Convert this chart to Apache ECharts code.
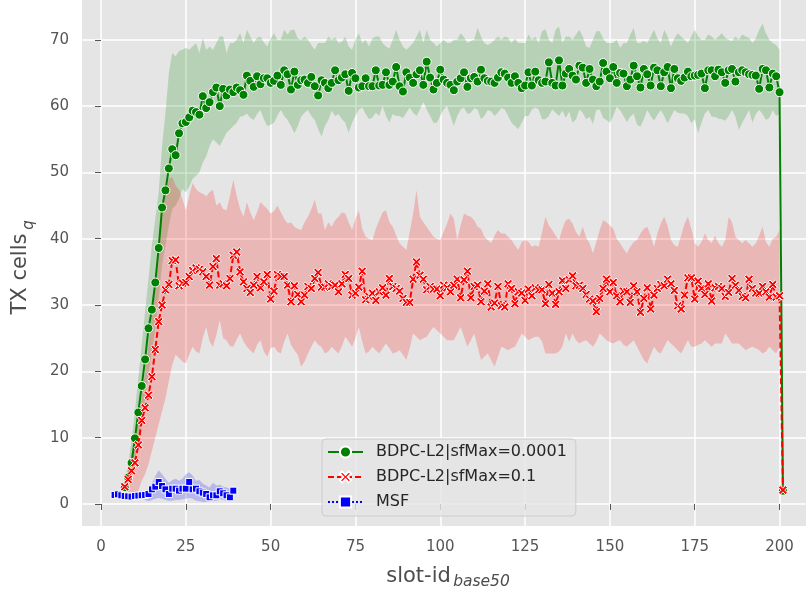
<!DOCTYPE html>
<html>
<head>
<meta charset="utf-8">
<script src="https://cdn.jsdelivr.net/npm/echarts@6/dist/echarts.min.js"></script>
<style>html,body{margin:0;padding:0;background:#fff;}#c{width:806px;height:594px;}</style>
</head>
<body>
<div id="c"></div>
<script>
// ---------------- DATA ----------------
const seriesNames = ['BDPC-L2|sfMax=0.0001', 'BDPC-L2|sfMax=0.1', 'MSF'];
const xTicks = [0, 25, 50, 75, 100, 125, 150, 175, 200];
const yTicks = [0, 10, 20, 30, 40, 50, 60, 70];

const greenStartX = 7;   // first slot of BDPC-L2|sfMax=0.0001
const greenMean = [
  2.5, 4.0, 6.2, 9.9, 13.8, 17.8, 21.8, 26.5, 29.3, 33.4,
  38.6, 44.7, 47.3, 50.6, 53.5, 52.6, 55.9, 57.4, 57.6, 58.3,
  59.3, 59.1, 58.7, 61.5, 59.7, 60.6, 62.1, 62.8, 60.0, 62.6,
  61.6, 62.5, 62.1, 62.8, 62.4, 61.7, 64.6, 63.8, 62.9, 64.5,
  63.3, 64.2, 64.2, 63.5, 63.8, 64.6, 63.2, 65.4, 64.8, 62.5,
  65.2, 63.2, 63.9, 64.0, 63.5, 64.4, 63.0, 61.6, 63.9, 63.5,
  62.7, 63.5, 65.4, 63.9, 64.3, 64.8, 62.3, 65.0, 64.2, 62.8,
  63.0, 64.2, 63.0, 63.0, 65.4, 63.1, 63.2, 65.1, 63.2, 63.7,
  65.9, 63.0, 62.2, 65.1, 64.3, 63.5, 64.8, 65.4, 63.2, 66.7,
  64.3, 62.5, 63.5, 65.5, 64.0, 63.5, 63.2, 62.4, 63.7, 64.2,
  65.1, 62.9, 64.2, 64.4, 63.7, 65.5, 64.2, 63.8, 63.7, 63.5,
  64.3, 65.1, 64.9, 64.3, 63.5, 64.5, 63.5, 62.7, 63.1, 65.1,
  63.1, 65.2, 63.9, 63.5, 63.7, 66.6, 63.5, 63.1, 66.9, 63.1,
  64.9, 65.6, 64.6, 64.0, 66.1, 65.8, 63.5, 65.6, 64.0, 63.0,
  63.7, 66.5, 65.2, 64.2, 65.9, 63.5, 65.0, 64.9, 63.0, 64.0,
  66.1, 64.5, 62.8, 65.6, 64.8, 63.1, 65.8, 65.4, 63.0, 65.1,
  65.9, 62.7, 65.6, 64.2, 63.8, 64.3, 65.2, 64.5, 64.6, 64.7,
  64.9, 62.7, 65.4, 65.4, 64.5, 65.5, 65.1, 63.5, 65.4, 65.6,
  63.7, 65.1, 65.4, 65.1, 64.8, 64.7, 64.6, 62.6, 65.6, 65.4,
  62.8, 64.9, 64.5, 62.1, 2.0
];
const greenUpper = [
  3.5, 6.0, 9.5, 14.0, 19.0, 24.0, 29.0, 34.0, 39.0, 43.0,
  47.0, 54.0, 59.0, 65.0, 68.0, 67.5, 68.3, 68.5, 68.8, 68.5,
  69.0, 69.5, 68.0, 70.3, 68.5, 69.0, 68.5, 69.5, 70.5, 70.5,
  68.0, 69.5, 69.5, 70.0, 71.0, 69.5, 71.5, 70.5, 69.5, 70.3,
  70.5, 69.6, 69.0, 70.2, 71.0, 70.0, 70.0, 71.5, 70.8, 71.5,
  71.5, 70.2, 70.0, 70.5, 70.0, 69.2, 68.5, 69.5, 69.5, 69.5,
  70.5, 70.0, 70.4, 69.5, 69.7, 70.5, 69.0, 68.5, 70.0, 71.0,
  69.5, 70.0, 69.0, 70.2, 70.5, 70.5, 69.5, 69.0, 68.7, 70.0,
  71.5, 70.0, 69.0, 68.5, 69.0, 69.5, 70.5, 71.5, 69.5, 71.5,
  70.0, 69.5, 69.0, 69.5, 70.0, 69.5, 69.5, 70.0, 70.0, 71.0,
  70.4, 69.5, 69.8, 70.0, 71.8, 70.5, 69.5, 69.2, 69.5, 70.0,
  70.5, 70.0, 70.5, 70.3, 69.5, 70.2, 69.5, 69.5, 69.5, 70.8,
  70.0, 70.5, 69.5, 71.3, 71.6, 70.0, 69.5, 71.5, 72.0, 69.5,
  70.5, 70.5, 70.0, 70.8, 71.5, 70.5, 69.0, 68.8, 70.0, 71.3,
  71.3, 70.2, 69.5, 69.5, 69.5, 70.0, 68.8, 69.5, 69.5, 70.8,
  71.8, 69.5, 69.5, 69.8, 69.5, 70.5, 71.5, 70.2, 69.5, 71.5,
  70.5, 69.0, 70.2, 71.0, 70.5, 70.0, 69.5, 70.5, 71.5, 70.5,
  70.0, 70.0, 70.8, 70.5, 70.0, 70.5, 71.0, 70.3, 70.0, 69.8,
  70.5, 70.0, 70.8, 70.5, 70.3, 69.5, 70.2, 71.5, 72.4, 71.0,
  70.0, 69.5, 69.2, 68.5, 3.0
];
const greenLower = [
  1.5, 2.5, 4.0, 6.5, 9.5, 12.5, 16.0, 19.5, 23.0, 26.5,
  31.0, 36.0, 39.0, 42.0, 44.5, 45.0, 46.0, 47.5, 47.0, 47.8,
  49.0, 49.5, 50.0, 51.5, 52.4, 54.0, 55.0, 54.5, 54.0, 55.0,
  56.0, 56.5, 57.0, 57.5, 58.4, 58.5, 58.9, 58.2, 57.9, 58.8,
  59.4, 58.0, 57.0, 57.2, 57.5, 58.6, 59.4, 58.5, 57.9, 57.0,
  55.9, 57.0, 58.4, 59.0, 59.4, 58.5, 57.9, 56.5, 55.4, 57.0,
  57.9, 59.3, 58.5, 58.8, 58.0, 57.5, 56.0, 57.5, 58.5, 59.5,
  59.8, 58.8, 58.0, 58.3, 59.0, 58.5, 60.0, 58.5, 57.5, 58.8,
  58.5, 58.5, 58.2, 59.0, 59.8, 59.0, 58.5, 59.5, 60.6, 59.5,
  58.5, 57.5, 57.5, 58.5, 59.5, 60.0, 58.5, 57.0, 58.5, 59.5,
  59.8, 58.8, 59.0, 59.7, 59.5, 58.0, 58.5, 59.4, 59.2, 58.5,
  59.0, 59.7, 59.5, 58.5, 57.5, 57.0, 56.5, 57.5, 58.5, 58.5,
  59.5, 59.8, 59.5, 58.0, 58.0, 58.5, 59.5, 59.0, 58.5, 59.3,
  58.2, 59.2, 57.5, 58.0, 59.5, 59.0, 58.0, 58.4, 57.3, 59.4,
  59.5, 58.2, 57.9, 57.5, 58.5, 59.9, 59.4, 58.5, 57.6, 58.4,
  58.9, 57.2, 56.9, 58.0, 59.4, 58.5, 57.8, 58.7, 59.4, 58.5,
  57.4, 58.4, 59.4, 59.0, 58.9, 58.9, 58.5, 57.4, 58.0, 55.9,
  57.5, 58.9, 59.4, 58.4, 58.4, 58.1, 58.0, 57.8, 58.5, 59.4,
  58.4, 56.4, 57.5, 58.4, 59.4, 57.5, 58.8, 59.4, 58.8, 57.9,
  58.2, 59.4, 58.5, 58.8, 1.0
];

const redStartX = 7;   // first slot of BDPC-L2|sfMax=0.1
const redMean = [
  2.6, 3.7, 5.0, 6.2, 8.9, 12.6, 14.5, 16.4, 19.2, 23.3,
  27.5, 30.0, 32.3, 33.1, 36.7, 36.8, 32.9, 33.3, 33.4, 34.3,
  35.2, 35.6, 35.4, 35.0, 34.3, 33.0, 35.8, 37.0, 33.0, 33.2,
  32.9, 34.0, 37.5, 38.0, 35.0, 33.5, 32.5, 31.9, 33.0, 34.3,
  32.6, 33.5, 34.6, 30.9, 32.1, 34.6, 34.3, 34.3, 33.0, 30.5,
  32.9, 31.6, 30.5, 31.5, 32.8, 32.5, 34.0, 34.9, 32.7, 32.7,
  33.2, 32.8, 33.0, 32.0, 33.2, 34.6, 34.0, 31.5, 31.8, 32.7,
  35.1, 30.8, 31.3, 31.8, 30.7, 32.0, 32.6, 31.5, 34.0, 32.8,
  32.5, 32.1, 31.0, 30.4, 30.4, 33.9, 36.5, 34.5, 33.9, 32.3,
  32.8, 32.4, 32.4, 31.4, 33.0, 32.6, 32.0, 33.0, 33.9, 31.1,
  33.8, 35.1, 31.1, 32.8, 33.0, 30.5, 32.1, 33.2, 29.7, 30.3,
  32.8, 29.9, 29.7, 33.2, 32.5, 30.2, 32.0, 31.8, 30.7, 32.4,
  31.4, 32.6, 32.3, 32.3, 30.2, 33.1, 31.8, 30.1, 32.0, 33.7,
  32.5, 33.8, 34.4, 32.9, 33.0, 32.5, 31.6, 30.9, 30.6, 29.0,
  31.0, 32.5, 33.9, 32.0, 33.4, 31.4, 30.5, 32.1, 32.0, 30.4,
  32.9, 32.0, 28.9, 31.0, 32.6, 29.4, 31.5, 32.5, 33.1, 32.9,
  33.9, 33.2, 32.2, 29.9, 29.4, 31.5, 34.1, 34.1, 30.9, 33.6,
  32.5, 31.6, 33.2, 30.6, 32.6, 32.8, 32.5, 31.3, 31.9, 34.0,
  33.0, 32.2, 31.3, 31.1, 33.9, 32.5, 31.8, 31.8, 32.8, 32.0,
  31.2, 33.1, 31.2, 31.4, 2.1
];
const redUpper = [
  3.5, 5.0, 7.5, 10.0, 13.0, 16.0, 20.0, 24.0, 29.0, 34.0,
  39.0, 44.0, 47.0, 49.0, 49.3, 48.0, 47.4, 46.0, 44.3, 46.5,
  48.4, 47.5, 47.0, 46.8, 46.4, 47.0, 47.4, 45.0, 45.5, 44.5,
  44.3, 46.5, 48.9, 46.5, 44.5, 43.3, 45.5, 44.0, 42.8, 44.0,
  45.5, 45.0, 44.5, 43.8, 44.2, 45.0, 44.0, 43.0, 42.3, 42.5,
  41.8, 41.5, 41.3, 42.5, 43.3, 44.5, 45.9, 43.8, 43.8, 41.3,
  42.5, 41.8, 42.8, 43.3, 44.0, 43.8, 42.5, 41.3, 43.0, 44.3,
  41.5, 40.3, 40.0, 39.8, 41.5, 42.8, 44.0, 44.3, 42.5, 41.8,
  40.5, 39.3, 38.8, 38.3, 41.0, 43.8, 47.3, 43.3, 42.5, 41.8,
  41.0, 40.3, 40.0, 39.8, 41.0, 42.3, 43.8, 43.0, 39.8, 42.0,
  43.8, 43.5, 43.3, 42.8, 41.8, 41.5, 40.3, 39.8, 39.3, 40.5,
  41.3, 40.8, 40.8, 40.3, 39.8, 39.0, 38.3, 39.5, 39.8, 39.5,
  38.8, 39.0, 38.8, 41.0, 43.3, 42.0, 41.3, 40.5, 39.8, 41.5,
  42.8, 43.0, 42.3, 41.0, 40.3, 41.8, 40.2, 39.3, 37.8, 39.5,
  41.3, 42.8, 42.5, 42.0, 41.5, 40.0, 39.3, 38.5, 37.8, 38.8,
  39.5, 39.8, 40.8, 41.5, 41.8, 40.5, 38.8, 40.8, 42.3, 43.3,
  42.0, 39.8, 39.0, 38.8, 40.5, 42.3, 43.3, 41.5, 39.3, 38.8,
  39.5, 40.8, 39.8, 39.3, 40.5, 39.3, 38.8, 39.8, 43.3, 42.5,
  40.3, 39.8, 39.3, 39.8, 39.3, 38.8, 39.3, 40.5, 41.8, 39.5,
  38.8, 40.0, 40.3, 41.3, 3.0
];
const redLower = [
  1.0, 1.0, 1.0, 1.2, 2.0, 3.5, 4.5, 6.0, 8.0, 10.0,
  12.0, 14.0, 16.0, 18.5, 21.0, 22.5, 22.0, 21.5, 21.2, 22.5,
  23.7, 23.0, 22.7, 25.0, 26.7, 24.5, 23.7, 25.5, 27.7, 25.0,
  24.7, 23.8, 23.7, 24.8, 25.7, 24.5, 23.7, 23.2, 22.7, 24.0,
  24.7, 23.0, 22.2, 23.5, 23.7, 23.0, 22.7, 24.5, 25.7, 24.0,
  23.2, 22.5, 20.7, 21.5, 22.7, 23.7, 24.7, 24.0, 23.7, 22.7,
  23.0, 23.7, 23.2, 22.7, 23.8, 25.2, 24.5, 23.7, 25.0, 26.7,
  24.5, 22.7, 23.0, 23.7, 23.2, 22.7, 23.5, 24.2, 23.5, 22.7,
  22.9, 23.2, 22.5, 21.7, 23.5, 25.7, 25.2, 24.7, 25.0, 25.2,
  26.0, 26.7, 26.2, 25.7, 25.2, 24.7, 24.7, 24.7, 25.7, 26.7,
  25.2, 23.7, 24.7, 25.7, 23.7, 21.7, 22.2, 22.7, 21.7, 20.7,
  22.2, 23.7, 23.5, 23.2, 23.5, 23.7, 24.7, 25.7, 25.2, 24.7,
  25.0, 25.2, 25.2, 24.5, 22.7, 22.7, 22.7, 22.7, 23.0, 23.7,
  25.7, 24.5, 25.7, 24.7, 24.2, 24.5, 24.7, 24.2, 23.7, 24.5,
  25.7, 25.2, 24.7, 24.4, 24.2, 24.5, 24.7, 24.0, 23.7, 24.2,
  24.7, 23.7, 22.7, 21.7, 21.2, 22.5, 23.7, 23.0, 22.7, 23.7,
  24.7, 24.2, 23.7, 23.2, 22.7, 23.7, 24.7, 23.7, 23.7, 24.0,
  24.2, 24.7, 24.2, 23.7, 24.2, 24.2, 24.2, 25.7, 25.0, 24.2,
  24.2, 24.2, 23.7, 23.2, 23.5, 23.7, 23.5, 23.2, 22.7, 23.0,
  23.7, 23.2, 22.7, 23.7, 1.2
];

const blueStartX = 4;   // first slot of MSF
const blueMean = [
  1.36, 1.46, 1.31, 1.21, 1.16, 1.11, 1.21, 1.26, 1.31, 1.36,
  1.51, 2.21, 2.61, 3.32, 2.71, 2.21, 1.51, 2.31, 2.31, 2.01,
  2.31, 2.31, 3.32, 2.21, 2.31, 1.91, 1.71, 1.51, 1.01, 1.31,
  1.31, 1.91, 1.61, 1.31, 1.01, 2.01
];
const blueUpper = [
  1.6, 1.7, 1.6, 1.5, 1.4, 1.4, 1.5, 1.6, 1.8, 2.0,
  2.3, 3.2, 4.2, 5.1, 4.5, 3.8, 3.2, 3.6, 3.8, 3.5,
  3.8, 4.5, 4.8, 4.3, 3.5, 3.6, 3.1, 2.8, 2.5, 3.2,
  2.8, 2.9, 2.6, 2.5, 2.3, 2.5
];
const blueLower = [
  1.2, 1.25, 1.0, 0.9, 0.9, 0.8, 0.9, 0.9, 0.8, 0.6,
  0.4, 0.6, 0.8, 0.9, 0.8, 0.6, 0.5, 0.5, 0.6, 0.6,
  0.7, 0.8, 0.9, 0.8, 0.5, 0.4, 0.3, 0.3, 0.4, 0.4,
  0.5, 0.7, 0.6, 0.5, 0.5, 1.2
];

// ---------------- BUILD ----------------
const slots = (start, arr) => arr.map((_, i) => start + i);
const greenX = slots(greenStartX, greenMean);
const redX = slots(redStartX, redMean);
const blueX = slots(blueStartX, blueMean);
const pairs = (xs, ys) => xs.map((x, i) => [x, ys[i]]);

function band(name, xs, lo, hi, fill) {
  return {
    type: 'custom', name: name + ' band', silent: true, z: 1,
    coordinateSystem: 'cartesian2d',
    data: xs.map((x, i) => [x, lo[i], hi[i]]),
    encode: { x: 0, y: [1, 2] },
    renderItem: function (params, api) {
      if (params.dataIndex !== 0) return null;
      const pts = [];
      for (let i = 0; i < xs.length; i++) pts.push(api.coord([xs[i], hi[i]]));
      for (let i = xs.length - 1; i >= 0; i--) pts.push(api.coord([xs[i], lo[i]]));
      return { type: 'polygon', shape: { points: pts }, style: { fill: fill } };
    }
  };
}

const X_PATH = 'path://M0.2,0 L0.5,0.3 L0.8,0 L1,0.2 L0.7,0.5 L1,0.8 L0.8,1 L0.5,0.7 L0.2,1 L0,0.8 L0.3,0.5 L0,0.2 Z';
const TICK = '#555555';

const chart = echarts.init(document.getElementById('c'), null, { renderer: 'canvas' });
chart.setOption({
  animation: false,
  backgroundColor: '#ffffff',
  grid: { left: 82, right: 0, top: 0, bottom: 68, show: true, backgroundColor: '#e5e5e5', borderWidth: 0 },
  xAxis: {
    type: 'value', min: -5.6, max: 207.8, offset: 3,
    axisLine: { show: false },
    axisTick: { show: true, length: 6, lineStyle: { color: TICK, width: 1 }, customValues: xTicks },
    axisLabel: { color: TICK, fontSize: 15, fontFamily: 'DejaVu Sans', margin: 11, customValues: xTicks },
    splitLine: { show: true, lineStyle: { color: '#ffffff', width: 1.5 } }
  },
  yAxis: {
    type: 'value', min: -3.32, max: 76.0, offset: 3,
    axisLine: { show: false },
    axisTick: { show: true, length: 6, lineStyle: { color: TICK, width: 1 }, customValues: yTicks },
    axisLabel: { color: TICK, fontSize: 15, fontFamily: 'DejaVu Sans', margin: 10, customValues: yTicks },
    splitLine: { show: true, lineStyle: { color: '#ffffff', width: 1.5 } }
  },
  legend: {
    data: seriesNames,
    orient: 'vertical', left: 322, top: 439,
    padding: [5, 9, 6, 5], itemGap: 9, itemWidth: 35, itemHeight: 14,
    backgroundColor: 'rgba(229,229,229,0.8)', borderColor: '#cccccc', borderWidth: 1, borderRadius: 4,
    textStyle: { fontSize: 16, fontFamily: 'DejaVu Sans', color: '#262626', padding: [0, 0, 0, 8] }
  },
  graphic: [
    { type: 'text', x: 21, y: 274, rotation: Math.PI / 2,
      style: { text: 'TX cells', font: '21px "DejaVu Sans"', fill: '#4d4d4d', align: 'center', verticalAlign: 'middle' } },
    { type: 'text', x: 29.5, y: 225, rotation: Math.PI / 2,
      style: { text: 'q', font: 'italic 15px "DejaVu Sans"', fill: '#4d4d4d', align: 'center', verticalAlign: 'middle' } },
    { type: 'text', x: 418.5, y: 576.5,
      style: { text: 'slot-id', font: '21px "DejaVu Sans"', fill: '#4d4d4d', align: 'center', verticalAlign: 'middle' } },
    { type: 'text', x: 481.5, y: 581.5,
      style: { text: 'base50', font: 'italic 15.5px "DejaVu Sans"', fill: '#4d4d4d', align: 'center', verticalAlign: 'middle' } }
  ],
  series: [
    band(seriesNames[0], greenX, greenLower, greenUpper, 'rgba(0,128,0,0.2)'),
    band(seriesNames[1], redX, redLower, redUpper, 'rgba(255,0,0,0.2)'),
    band(seriesNames[2], blueX, blueLower, blueUpper, 'rgba(0,0,255,0.2)'),
    {
      type: 'line', name: seriesNames[0], z: 2, data: pairs(greenX, greenMean),
      showSymbol: true, showAllSymbol: true, symbol: 'circle', symbolSize: 9,
      lineStyle: { color: '#008000', width: 2 },
      itemStyle: { color: '#008000', borderColor: '#ffffff', borderWidth: 1 }
    },
    {
      type: 'line', name: seriesNames[1], z: 3, data: pairs(redX, redMean),
      showSymbol: true, showAllSymbol: true, symbol: X_PATH, symbolSize: 9,
      lineStyle: { color: '#ff0000', width: 2, type: [6, 3] },
      itemStyle: { color: '#ff0000', borderColor: '#ffffff', borderWidth: 1 }
    },
    {
      type: 'line', name: seriesNames[2], z: 4, data: pairs(blueX, blueMean),
      showSymbol: true, showAllSymbol: true, symbol: 'rect', symbolSize: 7,
      lineStyle: { color: '#0000ff', width: 2, type: [2, 2] },
      itemStyle: { color: '#0000ff', borderColor: '#ffffff', borderWidth: 1 }
    }
  ]
});
</script>
</body>
</html>
